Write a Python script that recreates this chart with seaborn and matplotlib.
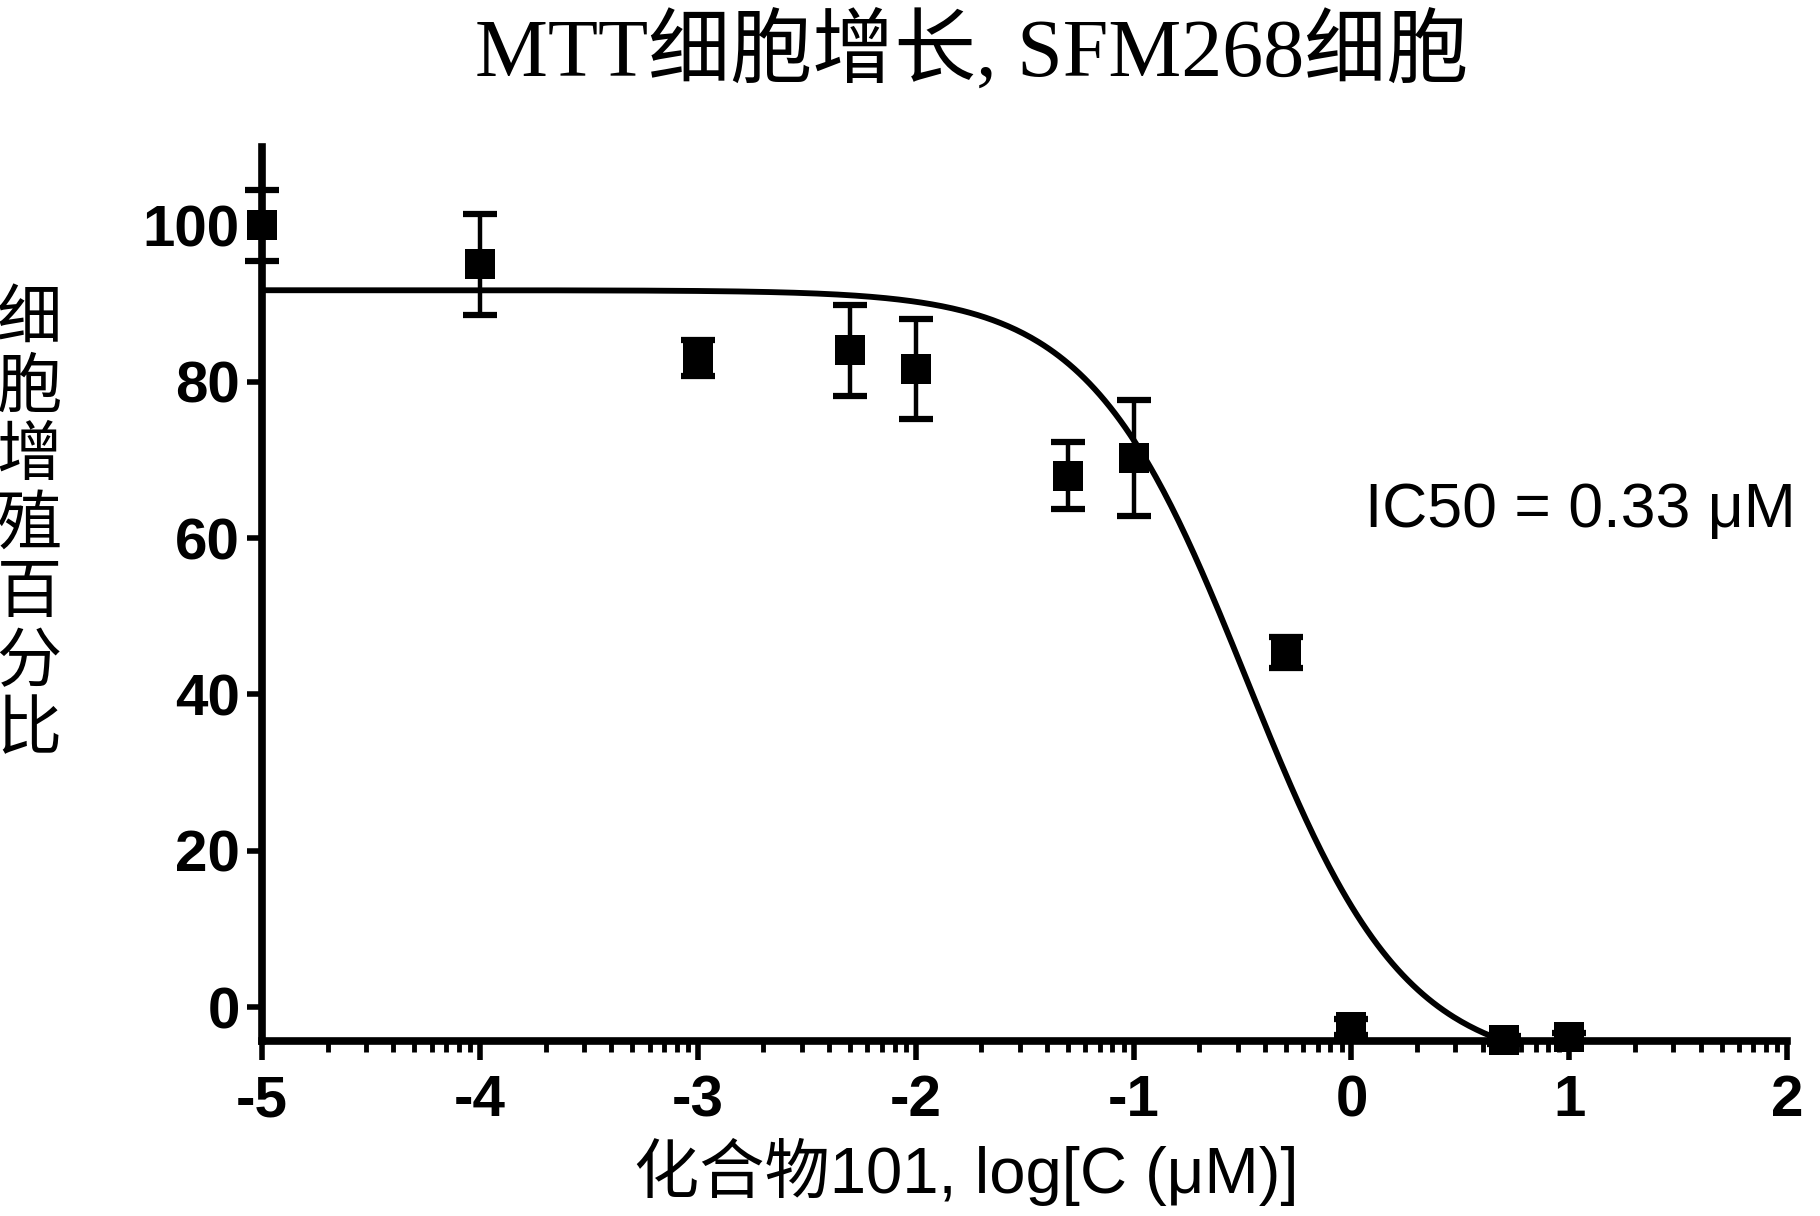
import numpy as np
import pandas as pd
import matplotlib
matplotlib.use("Agg")
import matplotlib.pyplot as plt
import seaborn as sns

# ---- data ----
log_conc = [-5.0, -4.0, -3.0, -2.3, -2.0, -1.3, -1.0, -0.3, 0.0, 0.7, 1.0]
growth = [100.0, 95.0, 83.0, 84.0, 81.6, 68.0, 70.2, 45.4, -2.5, -4.2, -3.8]
err = [4.5, 6.5, 2.3, 5.8, 6.4, 4.3, 7.4, 2.0, 1.0, 0.5, 0.5]

# fitted 4-parameter logistic curve (parameters)
fit_top = 91.7
fit_bottom = -8.0
fit_log_ic50 = -0.48
fit_hill = 1.2

title = "MTT细胞增长, SFM268细胞"
xlabel = "化合物101, log[C (μM)]"
ylabel = "细\n胞\n增\n殖\n百\n分\n比"
annotation = "IC50 = 0.33 μM"
xticks = [-5, -4, -3, -2, -1, 0, 1, 2]
yticks = [0, 20, 40, 60, 80, 100]

sns.set_theme(style="ticks")
plt.rcParams["font.family"] = ["Liberation Sans", "Noto Sans CJK SC", "DejaVu Sans"]
for key in ["text.color", "axes.labelcolor", "xtick.color", "ytick.color", "axes.edgecolor"]:
    plt.rcParams[key] = "black"

fig = plt.figure(figsize=(18.2, 12.16), dpi=100)
ax = fig.add_axes([0.144, 0.144, 0.838, 0.735])

df = pd.DataFrame({"x": log_conc, "y": growth, "e": err})
xs = np.linspace(-5, 2, 600)
curve = pd.DataFrame({
    "x": xs,
    "y": fit_bottom + (fit_top - fit_bottom) / (1 + 10 ** ((xs - fit_log_ic50) * fit_hill)),
})

sns.lineplot(data=curve, x="x", y="y", ax=ax, color="black", linewidth=4.2)
ax.errorbar(df["x"], df["y"], yerr=df["e"], fmt="none", ecolor="black",
            elinewidth=3.2, capsize=12, capthick=4.5, clip_on=False, zorder=4)
sns.scatterplot(data=df, x="x", y="y", ax=ax, marker="s", s=460, color="black",
                edgecolor="black", linewidth=0, zorder=5, clip_on=False)

ax.set_xlim(-5, 2)
ax.set_ylim(-4.3, 110)
ax.set_xticks(xticks)
ax.set_xticklabels([str(t) for t in xticks])
ax.set_yticks(yticks)
ax.set_yticklabels([str(t) for t in yticks])
minor = [d + np.log10(m) for d in range(-5, 2) for m in range(2, 10)]
ax.set_xticks(minor, minor=True)

for side in ["top", "right"]:
    ax.spines[side].set_visible(False)
for side in ["left", "bottom"]:
    ax.spines[side].set_linewidth(5.5)
    ax.spines[side].set_color("black")

ax.tick_params(axis="x", which="major", direction="out", length=14, width=4.0,
               pad=10, labelsize=42, color="black", labelcolor="black")
ax.tick_params(axis="x", which="minor", direction="out", length=8, width=3.5, color="black")
ax.tick_params(axis="y", which="major", direction="out", length=11, width=4.0,
               pad=5, labelsize=42, color="black", labelcolor="black")
for lbl in ax.get_xticklabels() + ax.get_yticklabels():
    lbl.set_fontweight("bold")

ax.set_xlabel("")
ax.set_ylabel("")

fig.text(0.534, 0.99, title, ha="center", va="top", fontsize=59, color="black",
         family=["Liberation Serif", "Noto Sans CJK SC"])
fig.text(0.531, 0.036, xlabel, ha="center", va="center", fontsize=47, color="black",
         family=["Liberation Sans", "Noto Sans CJK SC"])
fig.text(0.016, 0.568, ylabel, ha="center", va="center", fontsize=47, color="black",
         family=["Noto Sans CJK SC"], linespacing=1.04, fontweight="medium")
ax.text(1.05, 63.5, annotation, ha="center", va="center", fontsize=45, color="black",
        family=["Liberation Sans", "DejaVu Sans"])

fig.savefig("out.png", dpi=100)
